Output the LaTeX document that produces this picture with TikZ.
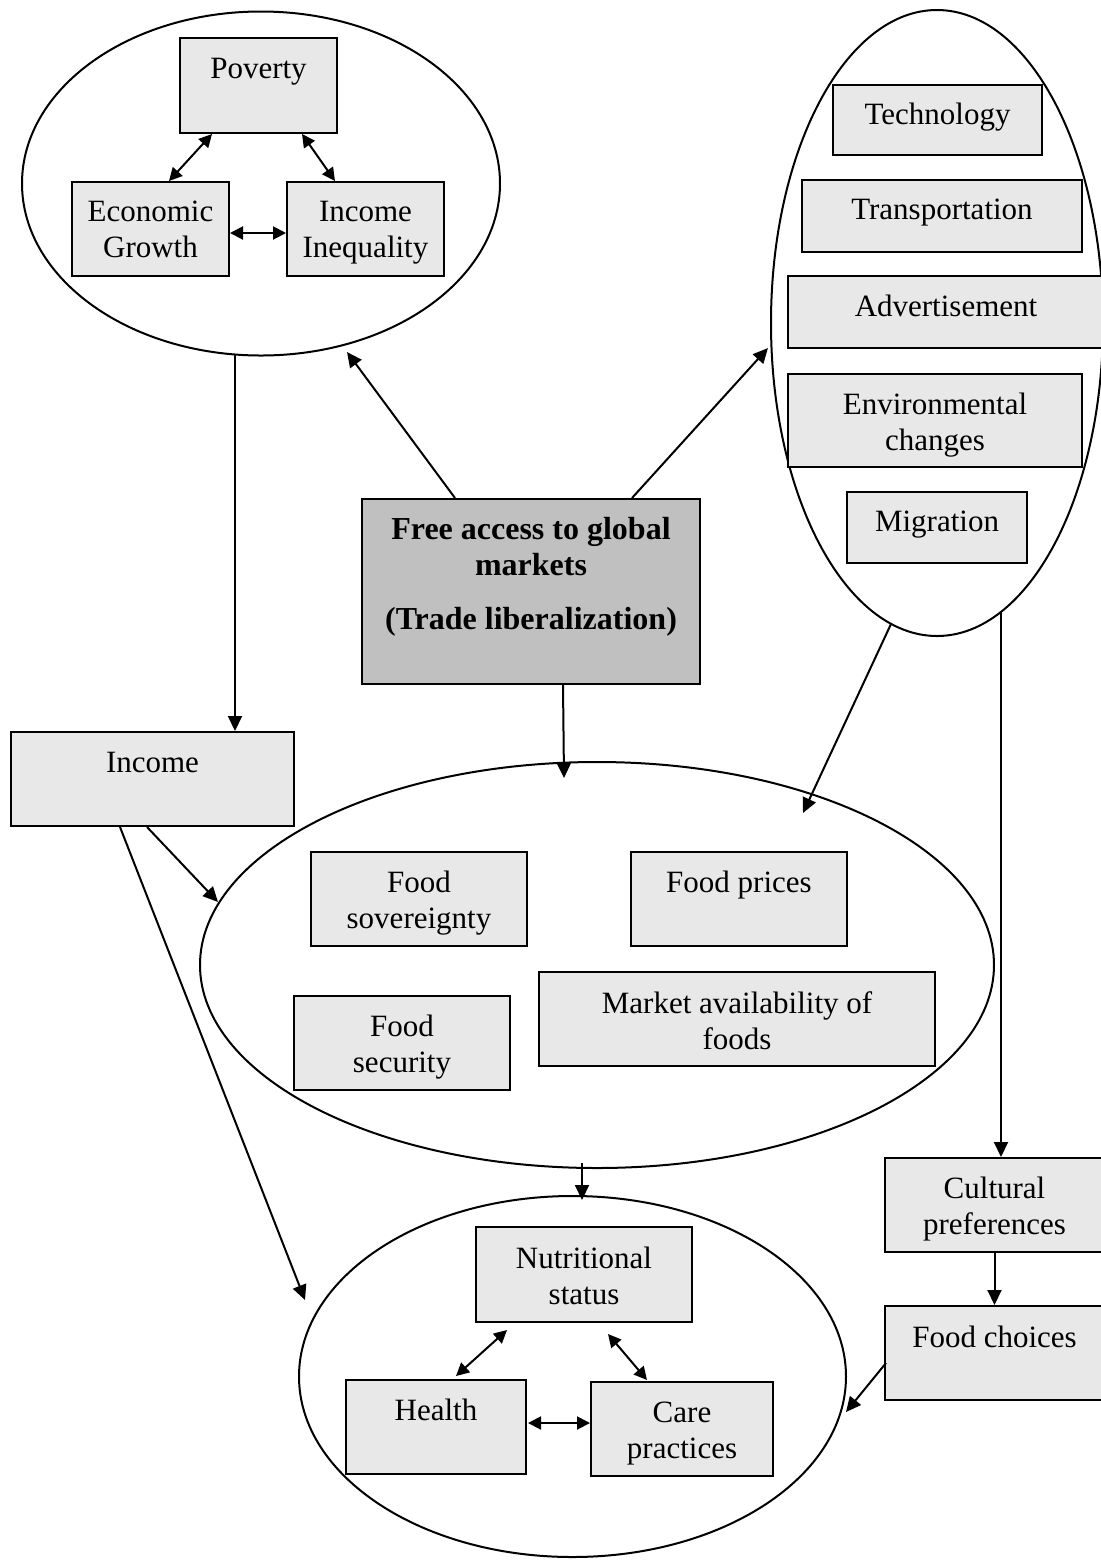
\documentclass[tikz,border=0pt]{standalone}
\usepackage{fontspec}
\setmainfont{Liberation Serif}
\usetikzlibrary{arrows.meta,shapes.geometric,fit,calc}
\definecolor{boxgray}{RGB}{232,232,232}
\definecolor{maingray}{RGB}{192,192,192}
\begin{document}
\begin{tikzpicture}[x=0.5pt,y=-0.5pt,
  box/.style={draw, line width=1pt, fill=boxgray, inner sep=0pt},
  mainbox/.style={box, fill=maingray},
  oval/.style={draw, line width=1pt, ellipse, inner sep=0pt},
  txt/.style={inner sep=0pt, align=center, font=\fontsize{15.5pt}{18pt}\selectfont, anchor=north},
  btxt/.style={txt, font=\fontsize{16pt}{18pt}\selectfont\bfseries},
  arr/.style={line width=1pt, -{Triangle[length=7.5pt,width=7pt]}},
  darr/.style={line width=1pt, {Triangle[length=6.5pt,width=6.5pt]}-{Triangle[length=6.5pt,width=6.5pt]}}]

\useasboundingbox (0,0) rectangle (1100,1560);

% ellipses
\node[oval, minimum width=239pt, minimum height=172pt] (e1) at (261,183.5) {};
\node[oval, minimum width=166pt, minimum height=313pt] (e2) at (937,323) {};
\node[oval, minimum width=397pt, minimum height=203pt] (e3) at (597,965) {};
\node[oval, minimum width=273.5pt, minimum height=180.5pt] (e4) at (572.5,1376.5) {};

% boxes
\node[box, fit={(180,38)(337,133)}] (pov) {};
\node[box, fit={(72,182)(229,276)}] (eco) {};
\node[box, fit={(287,182)(444,276)}] (ineq) {};
\node[box, fit={(833,85)(1042,155)}] (tech) {};
\node[box, fit={(802,180)(1082,252)}] (trans) {};
\node[box, fit={(788,276)(1104,348)}] (adv) {};
\node[box, fit={(788,374)(1082,467)}] (env) {};
\node[box, fit={(847,492)(1027,563)}] (mig) {};
\node[mainbox, fit={(362,499)(700,684)}] (free) {};
\node[box, fit={(11,732)(294,826)}] (inc) {};
\node[box, fit={(311,852)(527,946)}] (fsov) {};
\node[box, fit={(631,852)(847,946)}] (fpr) {};
\node[box, fit={(294,996)(510,1090)}] (fsec) {};
\node[box, fit={(539,972)(935,1066)}] (mkt) {};
\node[box, fit={(476,1227)(692,1322)}] (nutr) {};
\node[box, fit={(346,1380)(526,1474)}] (hlth) {};
\node[box, fit={(591,1382)(773,1476)}] (care) {};
\node[box, fit={(885,1158)(1104,1252)}] (cult) {};
\node[box, fit={(885,1306)(1104,1400)}] (fch) {};

% texts
\node[txt] (pov-t) at ($(pov.north)+(0,21)$) {Poverty};
\node[txt] (eco-t) at ($(eco.north)+(0,20)$) {Economic\\Growth};
\node[txt] (ineq-t) at ($(ineq.north)+(0,20)$) {Income\\Inequality};
\node[txt] (tech-t) at ($(tech.north)+(0,19)$) {Technology};
\node[txt] (trans-t) at ($(trans.north)+(0,20)$) {Transportation};
\node[txt] (adv-t) at ($(adv.north)+(0,20)$) {Advertisement};
\node[txt] (env-t) at ($(env.north)+(0,20)$) {Environmental\\changes};
\node[txt] (mig-t) at ($(mig.north)+(0,20)$) {Migration};
\node[btxt] (free-t) at ($(free.north)+(0,19)$) {Free access to global\\markets\\[9pt](Trade liberalization)};
\node[txt] (inc-t) at ($(inc.north)+(0,21)$) {Income};
\node[txt] (fsov-t) at ($(fsov.north)+(0,20)$) {Food\\sovereignty};
\node[txt] (fpr-t) at ($(fpr.north)+(0,20)$) {Food prices};
\node[txt] (fsec-t) at ($(fsec.north)+(0,20)$) {Food\\security};
\node[txt] (mkt-t) at ($(mkt.north)+(0,20)$) {Market availability of\\foods};
\node[txt] (nutr-t) at ($(nutr.north)+(0,21)$) {Nutritional\\status};
\node[txt] (hlth-t) at ($(hlth.north)+(0,20)$) {Health};
\node[txt] (care-t) at ($(care.north)+(0,21)$) {Care\\practices};
\node[txt] (cult-t) at ($(cult.north)+(0,20)$) {Cultural\\preferences};
\node[txt] (fch-t) at ($(fch.north)+(0,21)$) {Food choices};

% connector end points on ellipse borders
\coordinate (e1b) at (235,354);
\coordinate (e1r) at (347,352);
\coordinate (e2l) at (768,348);
\coordinate (e2b) at (891,624);
\coordinate (e2c) at (1001,612);
\coordinate (e3t) at (564,778);
\coordinate (e3r) at (803,813);
\coordinate (e3l) at (218,902);
\coordinate (e3b) at (582,1163);
\coordinate (e4t) at (582,1200);
\coordinate (e4l) at (305,1300);
\coordinate (e4r) at (846,1412);

% double arrows
\draw[darr] ($(pov.south west)+(33,0)$) -- ($(eco.north west)+(98,0)$);
\draw[darr] ($(pov.south west)+(123,0)$) -- ($(ineq.north west)+(49,0)$);
\draw[darr] ($(eco.east)+(0,4)$) -- ($(ineq.west)+(0,4)$);
\draw[darr] ($(nutr.south west)+(32,7)$) -- ($(hlth.north west)+(111,-3)$);
\draw[darr] ($(nutr.south west)+(133,11)$) -- ($(care.north west)+(57,-1)$);
\draw[darr] ($(hlth.north east)+(1,44)$) -- ($(care.north west)+(0,42)$);

% arrows
\draw[arr] (e1b) -- (e1b |- inc.north);
\draw[arr] ($(free.north west)+(94,0)$) -- (e1r);
\draw[arr] ($(free.north west)+(271,0)$) -- (e2l);
\draw[arr] ($(free.south west)+(202,0)$) -- (e3t);
\draw[arr] (e2b) -- (e3r);
\draw[arr] (e2c) -- (e2c |- cult.north);
\draw[arr] ($(inc.south west)+(137,0)$) -- (e3l);
\draw[arr] ($(inc.south west)+(110,0)$) -- (e4l);
\draw[arr] (e3b) -- (e4t);
\draw[arr] (cult.south) -- (fch.north);
\draw[arr] ($(fch.west)+(2,10)$) -- (e4r);
\end{tikzpicture}
\end{document}
